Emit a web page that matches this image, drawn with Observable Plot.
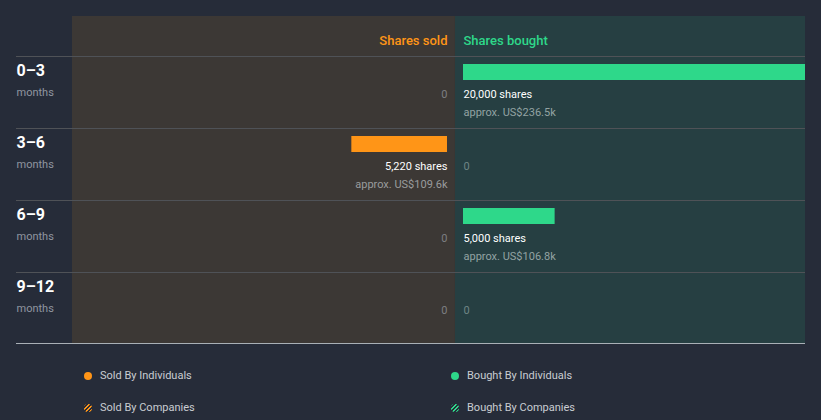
<!DOCTYPE html>
<html>
<head>
<meta charset="utf-8">
<script src="https://cdn.jsdelivr.net/npm/d3@7"></script>
<script src="https://cdn.jsdelivr.net/npm/@observablehq/plot@0.6"></script>
<style>
  html, body { margin: 0; padding: 0; background: #262c39; }
  body { width: 821px; height: 420px; overflow: hidden; font-family: Roboto, sans-serif; }
  #legend { position: relative; height: 74px; }
  .item { position: absolute; font-size: 11px; color: #c9cdd2; line-height: 12px; }
  .dot { position: absolute; width: 8px; height: 8px; border-radius: 50%; }
</style>
</head>
<body>
<div id="chart"></div>
<div id="legend"></div>
<script>
const periods = ["0–3", "3–6", "6–9", "9–12"];
const soldShares = [0, 5220, 0, 0];
const soldValueK = [null, 109.6, null, null];
const boughtShares = [20000, 0, 5000, 0];
const boughtValueK = [236.5, null, 106.8, null];
const legendItems = ["Sold By Individuals", "Bought By Individuals", "Sold By Companies", "Bought By Companies"];

const orange = "#ff9517";
const green = "#2ed88a";
const rows = periods.map((p, i) => ({
  period: p,
  sold: soldShares[i], soldK: soldValueK[i],
  bought: boughtShares[i], boughtK: boughtValueK[i]
}));
const fmt = d3.format(",");
const xDomain = [-20900, 19100];

const chart = Plot.plot({
  width: 821,
  height: 346,
  marginTop: 56,
  marginBottom: 2,
  marginLeft: 72,
  marginRight: 16,
  x: {domain: xDomain, axis: null},
  y: {domain: periods, axis: null, padding: 0},
  style: {background: "transparent", fontFamily: "Roboto, sans-serif", overflow: "visible"},
  marks: [
    Plot.rect([0], {x1: xDomain[0], x2: 0, fill: "#3c3835", insetTop: -40, insetBottom: 1}),
    Plot.rect([0], {x1: 0, x2: xDomain[1], fill: "#263f42", insetTop: -40, insetBottom: 1}),
    Plot.ruleY(periods, {y: d => d, dy: -36, stroke: "#4f5257", insetLeft: -56}),
    Plot.ruleY([periods[periods.length - 1]], {y: d => d, dy: 35, stroke: "#a9b0b6", insetLeft: -56}),
    Plot.text(["Shares sold"], {x: 0, frameAnchor: "top", dy: -21, dx: -8, text: d => d, textAnchor: "end", fill: orange, fontSize: 13, fontWeight: 500}),
    Plot.text(["Shares bought"], {x: 0, frameAnchor: "top", dy: -21, dx: 8, text: d => d, textAnchor: "start", fill: green, fontSize: 13, fontWeight: 500}),
    Plot.text(rows, {y: "period", text: "period", frameAnchor: "left", dx: -56, dy: -22, textAnchor: "start", fill: "#ffffff", fontSize: 16, fontWeight: 700}),
    Plot.text(rows, {y: "period", text: () => "months", frameAnchor: "left", dx: -56, dy: 0, textAnchor: "start", fill: "#9096a0", fontSize: 11}),
    Plot.barX(rows.filter(d => d.sold > 0), {x1: 0, x2: d => -d.sold, y: "period", dx: -8, fill: orange, insetTop: 8, insetBottom: 48}),
    Plot.barX(rows.filter(d => d.bought > 0), {x1: 0, x2: d => d.bought, y: "period", dx: 8, fill: green, insetTop: 8, insetBottom: 48, clip: true}),
    Plot.text(rows, {x: 0, y: "period", dx: -8, dy: 2, textAnchor: "end", text: d => d.sold > 0 ? fmt(d.sold) + " shares" : "0", fill: d => d.sold > 0 ? "#ffffff" : "#7c7f82", fontSize: 11, fontWeight: d => d.sold > 0 ? 500 : 400}),
    Plot.text(rows.filter(d => d.soldK != null), {x: 0, y: "period", dx: -8, dy: 20, textAnchor: "end", text: d => "approx. US$" + d.soldK + "k", fill: "#9a9c9e", fontSize: 11}),
    Plot.text(rows, {x: 0, y: "period", dx: 8, dy: 2, textAnchor: "start", text: d => d.bought > 0 ? fmt(d.bought) + " shares" : "0", fill: d => d.bought > 0 ? "#ffffff" : "#6f8585", fontSize: 11, fontWeight: d => d.bought > 0 ? 500 : 400}),
    Plot.text(rows.filter(d => d.boughtK != null), {x: 0, y: "period", dx: 8, dy: 20, textAnchor: "start", text: d => "approx. US$" + d.boughtK + "k", fill: "#93a3a3", fontSize: 11})
  ]
});
document.getElementById("chart").appendChild(chart);

const legend = document.getElementById("legend");
const pos = [
  {x: 84, y: 24, color: orange, hatch: false},
  {x: 451, y: 24, color: green, hatch: false},
  {x: 84, y: 56, color: orange, hatch: true},
  {x: 451, y: 56, color: green, hatch: true}
];
legendItems.forEach((label, i) => {
  const p = pos[i];
  const dot = document.createElement("div");
  dot.className = "dot";
  dot.style.left = p.x + "px";
  dot.style.top = (p.y + 2) + "px";
  dot.style.background = p.hatch
    ? `repeating-linear-gradient(135deg, ${p.color} 0 1.5px, #262c39 1.5px 3px)`
    : p.color;
  legend.appendChild(dot);
  const t = document.createElement("div");
  t.className = "item";
  t.style.left = (p.x + 16) + "px";
  t.style.top = p.y + "px";
  t.textContent = label;
  legend.appendChild(t);
});
</script>
</body>
</html>
